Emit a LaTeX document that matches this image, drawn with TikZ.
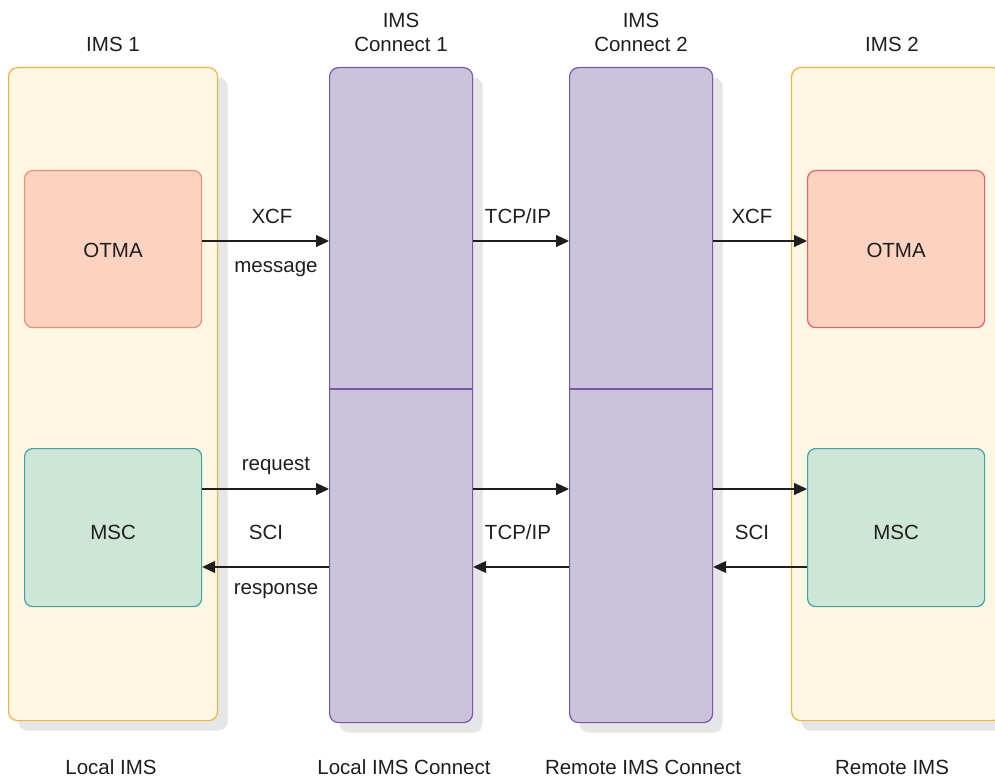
\documentclass[tikz,border=0pt]{standalone}
\usepackage{fontspec}
\setmainfont{Liberation Sans}
\usetikzlibrary{arrows.meta,shadows}
\definecolor{imsfill}{HTML}{FEF7E4}
\definecolor{imsdraw}{HTML}{F5B335}
\definecolor{otmafill}{HTML}{FCD3C1}
\definecolor{otmadrawA}{HTML}{F58D6D}
\definecolor{otmadrawB}{HTML}{EE5A6A}
\definecolor{mscfill}{HTML}{CDE6D6}
\definecolor{mscdraw}{HTML}{3AA6A6}
\definecolor{conFill}{HTML}{C9C3DC}
\definecolor{conDraw}{HTML}{7D55A6}
\definecolor{shadowgray}{HTML}{E5E6E8}
\definecolor{txt}{HTML}{1E1E1E}
\tikzset{
  every node/.style={font=\fontsize{20.5}{24}\selectfont, text=txt},
  shadowed/.style={drop shadow={shadow xshift=10pt,shadow yshift=-10pt,fill=shadowgray,opacity=1}},
  imsbox/.style={shadowed, draw=imsdraw, fill=imsfill, line width=1.2pt, rounded corners=9pt,
    anchor=north west, minimum width=209pt, minimum height=653pt, inner sep=0pt},
  conbox/.style={shadowed, draw=conDraw, fill=conFill, line width=1.2pt, rounded corners=9pt,
    anchor=north west, minimum width=143pt, minimum height=655pt, inner sep=0pt},
  otmabox/.style={fill=otmafill, line width=1.2pt, rounded corners=8pt,
    anchor=north west, minimum width=177pt, minimum height=157pt, inner sep=0pt},
  mscbox/.style={draw=mscdraw, fill=mscfill, line width=1.2pt, rounded corners=8pt,
    anchor=north west, minimum width=177pt, minimum height=158pt, inner sep=0pt},
  conn/.style={draw=txt, line width=1.1pt, -{Triangle[length=13pt,width=12pt]}},
  lbl/.style={inner sep=0pt, anchor=center},
}
\begin{document}
\begin{tikzpicture}[x=1pt,y=-1pt]
\useasboundingbox (0,0) rectangle (995,778);
\begin{scope}
\clip (0,0) rectangle (995,778);
% outer boxes
\node[imsbox] (ims1) at (8,67) {};
\node[imsbox, minimum width=210pt] (ims2) at (791,67) {};
\node[conbox] (c1) at (329,67) {};
\node[conbox] (c2) at (569,67) {};
\end{scope}
\draw[conDraw, line width=1.2pt] (c1.west |- 0,389) -- (c1.east |- 0,389);
\draw[conDraw, line width=1.2pt] (c2.west |- 0,389) -- (c2.east |- 0,389);
% inner boxes
\node[otmabox, draw=otmadrawA] (otma1) at (24,170) {};
\node[lbl] at ([yshift=-1pt]otma1.center) {OTMA};
\node[otmabox, draw=otmadrawB] (otma2) at (807,170) {};
\node[lbl] at ([yshift=-1pt]otma2.center) {OTMA};
\node[mscbox] (msc1) at (24,448) {};
\node[lbl] at ([yshift=-5pt]msc1.center) {MSC};
\node[mscbox] (msc2) at (807,448) {};
\node[lbl] at ([yshift=-5pt]msc2.center) {MSC};
% connectors
\draw[conn] (otma1.east |- 0,241) -- (c1.west |- 0,241);
\draw[conn] (c1.east |- 0,241) -- (c2.west |- 0,241);
\draw[conn] (c2.east |- 0,241) -- (otma2.west |- 0,241);
\draw[conn] (msc1.east |- 0,489) -- (c1.west |- 0,489);
\draw[conn] (c1.east |- 0,489) -- (c2.west |- 0,489);
\draw[conn] (c2.east |- 0,489) -- (msc2.west |- 0,489);
\draw[conn] (c1.west |- 0,567) -- (msc1.east |- 0,567);
\draw[conn] (c2.west |- 0,567) -- (c1.east |- 0,567);
\draw[conn] (msc2.west |- 0,567) -- (c2.east |- 0,567);
% labels
\node[lbl] (l1) at (272,216) {XCF};
\node[lbl] (l2) at (276,269) {message};
\node[lbl] (l3) at (518,216) {TCP/IP};
\node[lbl] (l4) at (752,216) {XCF};
\node[lbl] (l5) at (276,466) {request};
\node[lbl] (l6) at (266,532) {SCI};
\node[lbl] (l7) at (276,591) {response};
\node[lbl] (l8) at (518,532) {TCP/IP};
\node[lbl] (l9) at (752,532) {SCI};
% titles
\node[lbl] (t1) at (113,44) {IMS 1};
\node[lbl, align=center] (t2) at (401,32) {IMS\\Connect 1};
\node[lbl, align=center] (t3) at (641,32) {IMS\\Connect 2};
\node[lbl] (t4) at (892,44) {IMS 2};
\node[lbl] (b1) at (111,767) {Local IMS};
\node[lbl] (b2) at (404,767) {Local IMS Connect};
\node[lbl] (b3) at (643,767) {Remote IMS Connect};
\node[lbl] (b4) at (892,767) {Remote IMS};
\end{tikzpicture}
\end{document}
